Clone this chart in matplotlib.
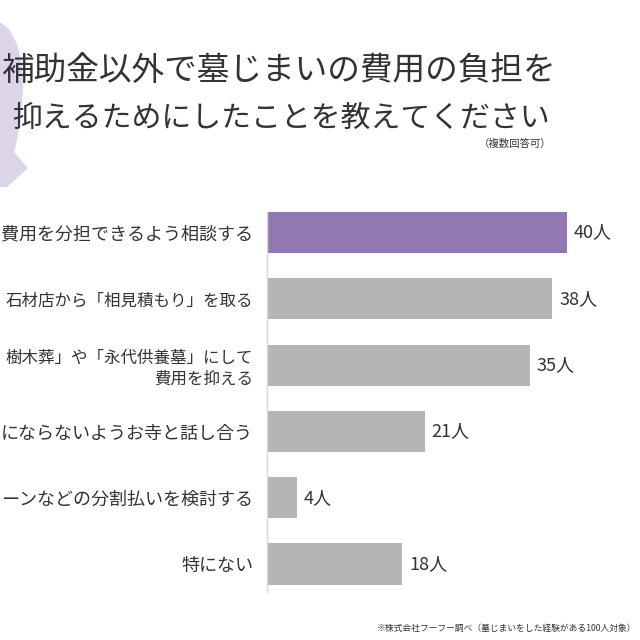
import matplotlib
matplotlib.use('Agg')
import matplotlib.pyplot as plt
from matplotlib.patches import Polygon

plt.rcParams['font.family'] = ['Noto Sans CJK JP', 'DejaVu Sans']

# survey answers (top to bottom, as far as the picture shows them) and counts
labels = ['費用を分担できるよう相談する',
          '石材店から「相見積もり」を取る',
          '樹木葬」や「永代供養墓」にして\n費用を抑える',
          'にならないようお寺と話し合う',
          'ーンなどの分割払いを検討する',
          '特にない']
counts = [40, 38, 35, 21, 4, 18]
unit = '人'

title1 = '補助金以外で墓じまいの費用の負担を'
title2 = '抑えるためにしたことを教えてください'
note = '（複数回答可）'
source = '※株式会社フーフー調べ（墓じまいをした経験がある100人対象）'

W = H = 640
purple = '#9178b0'
grey = '#b5b5b5'
txt = '#333333'

fig = plt.figure(figsize=(6.4, 6.4), dpi=100)

# lavender decoration at the left edge
deco = [(0, 22), (9, 29), (17, 44), (22, 65), (23, 90), (21, 115),
        (17, 140), (14, 152), (28, 168), (7, 187), (0, 187)]
fig.patches.append(Polygon([(x / W, 1 - y / H) for x, y in deco], closed=True,
                           transform=fig.transFigure, facecolor='#dbd5e7',
                           edgecolor='none', zorder=0))

fig.text(279 / W, 1 - 71 / H, title1, fontsize=23.5, color=txt,
         ha='center', va='center')
fig.text(281 / W, 1 - 118 / H, title2, fontsize=21.5, color=txt,
         ha='center', va='center')
fig.text(551 / W, 1 - 144 / H, note, fontsize=7.5, color=txt,
         ha='right', va='center')
fig.text(636 / W, 1 - 628 / H, source, fontsize=6.3, color=txt,
         ha='right', va='center')

# axes: x=0 at 267px, 7.5px per person; rows 66.3px apart
left = 267 / W
ax = fig.add_axes([left, 1 - 597.2 / H, 375 / W, 397.8 / H])
ypos = list(range(len(counts)))
colors = [purple] + [grey] * (len(counts) - 1)
ax.barh(ypos, counts, height=0.62, color=colors, zorder=2)
for y, v in zip(ypos, counts):
    ax.text(v + 0.95, y, f'{v}{unit}', fontsize=13, color=txt,
            ha='left', va='center')

ax.set_xlim(0, 50)
ax.set_ylim(5.5, -0.5)
ax.set_yticks(ypos)
ax.set_yticklabels(labels, fontsize=13, color=txt, linespacing=1.25)
# labels with full-width brackets are wider; shrink them a little to fit
for t in ax.get_yticklabels():
    if '」' in t.get_text():
        t.set_fontsize(11.9)
ax.tick_params(axis='y', length=0, pad=10)
ax.set_xticks([])
for s in ['top', 'right', 'bottom']:
    ax.spines[s].set_visible(False)
ax.spines['left'].set_color('#d9d9d9')
ax.spines['left'].set_linewidth(1.0)
ax.spines['left'].set_bounds(-0.31, 5.42)
ax.patch.set_alpha(0)

fig.savefig('out.png', dpi=100)
